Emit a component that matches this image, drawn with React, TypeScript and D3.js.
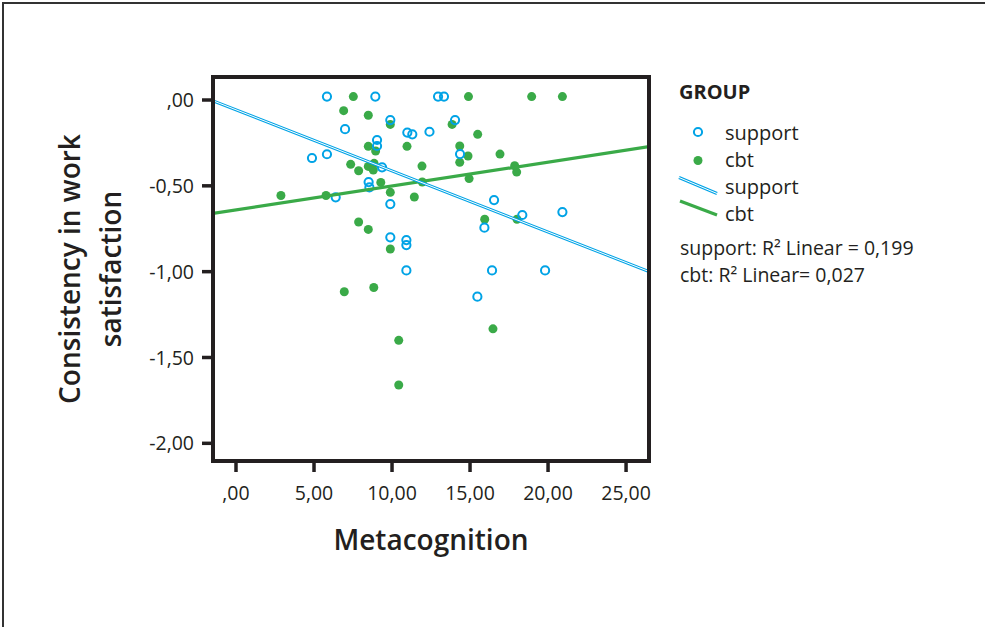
import * as d3 from "d3";
import React, { useEffect, useRef } from "react";

// support group (open circles)
const supportX = [5.83, 8.93, 6.99, 9.89, 10.98, 11.3, 12.4, 9.04, 9.04, 4.87, 5.83, 9.36, 8.5, 8.55, 6.39, 9.89, 9.89, 10.92, 10.92, 10.92, 12.95, 13.33, 14.04, 14.36, 16.54, 18.35, 20.92, 15.92, 16.41, 19.81, 15.47];
const supportY = [0.02, 0.02, -0.17, -0.117, -0.19, -0.2, -0.185, -0.233, -0.268, -0.338, -0.316, -0.392, -0.478, -0.509, -0.567, -0.606, -0.8, -0.816, -0.845, -0.993, 0.02, 0.02, -0.117, -0.315, -0.583, -0.67, -0.653, -0.744, -0.993, -0.993, -1.146];

// cbt group (filled dots)
const cbtX = [7.52, 6.9, 8.48, 9.89, 10.96, 8.48, 8.95, 7.35, 7.86, 8.48, 8.85, 8.8, 9.28, 11.92, 11.94, 9.89, 11.43, 2.88, 5.77, 7.86, 8.48, 9.89, 6.94, 8.83, 10.43, 10.43, 14.9, 18.95, 20.92, 13.85, 15.49, 14.34, 14.87, 14.34, 16.92, 17.86, 17.99, 14.94, 15.94, 18.01, 16.47];
const cbtY = [0.02, -0.062, -0.089, -0.142, -0.27, -0.27, -0.297, -0.375, -0.412, -0.387, -0.369, -0.408, -0.48, -0.385, -0.478, -0.538, -0.565, -0.556, -0.556, -0.711, -0.754, -0.868, -1.117, -1.092, -1.4, -1.66, 0.02, 0.02, 0.02, -0.142, -0.2, -0.268, -0.326, -0.363, -0.315, -0.383, -0.42, -0.458, -0.695, -0.695, -1.333];

// fit lines: [intercept, slope]
const supportFit = [-0.057, -0.0356];
const cbtFit = [-0.64, 0.0139];

const xTicks = [0, 5, 10, 15, 20, 25];
const yTicks = [0, -0.5, -1, -1.5, -2];
const legendLabels = ["support", "cbt", "support", "cbt"];
const r2Labels = ["support: R\u00b2 Linear = 0,199", "cbt: R\u00b2 Linear= 0,027"];

const BLUE = "#00a3e6";
const GREEN = "#3aaa48";
const INK = "#231f20";
const FONT = "'Open Sans', Lato, sans-serif";

const App = () => {
  const node = useRef(null);
  useEffect(() => {
    const svg = d3
      .select(node.current)
      .append("svg")
      .attr("width", 985)
      .attr("height", 627)
      .style("position", "absolute")
      .style("left", "0px")
      .style("top", "0px")
      .style("font-family", FONT)
      .style("font-weight", 500);

    const left = 213, right = 649, top = 77, bottom = 461;
    const x = d3.scaleLinear().domain([-1.474, 26.47]).range([left, right]);
    const y = d3.scaleLinear().domain([0.134, -2.103]).range([top, bottom]);

    const locale = d3.formatLocale({ decimal: ",", thousands: ".", grouping: [3], currency: ["", ""] });
    const fmt = (d) => locale.format(".2f")(d).replace(/^(-?)0,/, "$1,").replace("\u2212", "-");

    // outer frame
    svg
      .append("path")
      .attr("d", "M3,627V3H985")
      .attr("fill", "none")
      .attr("stroke", "#333")
      .attr("stroke-width", 2);

    // clip for fit lines
    svg
      .append("clipPath")
      .attr("id", "plotclip")
      .append("rect")
      .attr("x", left)
      .attr("y", top)
      .attr("width", right - left)
      .attr("height", bottom - top);

    const plot = svg.append("g");

    const line = d3
      .line()
      .x((d) => x(d[0]))
      .y((d) => y(d[1]));
    const xd = x.domain();
    const fitPts = (f) => xd.map((v) => [v, f[0] + f[1] * v]);

    // points
    plot
      .selectAll(".cbt")
      .data(cbtX.map((v, i) => [v, cbtY[i]]))
      .enter()
      .append("circle")
      .attr("cx", (d) => x(d[0]))
      .attr("cy", (d) => y(d[1]))
      .attr("r", 4.5)
      .attr("fill", GREEN);
    plot
      .selectAll(".sup")
      .data(supportX.map((v, i) => [v, supportY[i]]))
      .enter()
      .append("circle")
      .attr("cx", (d) => x(d[0]))
      .attr("cy", (d) => y(d[1]))
      .attr("r", 4.1)
      .attr("fill", "none")
      .attr("stroke", BLUE)
      .attr("stroke-width", 2);

    // fit lines
    const fits = plot.append("g").attr("clip-path", "url(#plotclip)");
    fits
      .append("path")
      .attr("d", line(fitPts(cbtFit)))
      .attr("fill", "none")
      .attr("stroke", GREEN)
      .attr("stroke-width", 3.2);
    fits
      .append("path")
      .attr("d", line(fitPts(supportFit)))
      .attr("fill", "none")
      .attr("stroke", BLUE)
      .attr("stroke-width", 3);
    fits
      .append("path")
      .attr("d", line(fitPts(supportFit)))
      .attr("fill", "none")
      .attr("stroke", "#fff")
      .attr("stroke-width", 1);

    // frame + ticks
    svg
      .append("rect")
      .attr("x", left)
      .attr("y", top)
      .attr("width", right - left)
      .attr("height", bottom - top)
      .attr("fill", "none")
      .attr("stroke", INK)
      .attr("stroke-width", 4);

    const yAx = svg.append("g");
    yTicks.forEach((t) => {
      yAx
        .append("line")
        .attr("x1", left - 11)
        .attr("x2", left)
        .attr("y1", y(t))
        .attr("y2", y(t))
        .attr("stroke", INK)
        .attr("stroke-width", 3.5);
      yAx
        .append("text")
        .attr("x", 194)
        .attr("y", y(t))
        .attr("dy", "0.36em")
        .attr("text-anchor", "end")
        .attr("font-size", 19.5)
        .attr("fill", INK)
        .text(fmt(t));
    });
    const xAx = svg.append("g");
    xTicks.forEach((t) => {
      xAx
        .append("line")
        .attr("x1", x(t))
        .attr("x2", x(t))
        .attr("y1", bottom)
        .attr("y2", bottom + 11)
        .attr("stroke", INK)
        .attr("stroke-width", 3.5);
      xAx
        .append("text")
        .attr("x", x(t))
        .attr("y", 500)
        .attr("text-anchor", "middle")
        .attr("font-size", 19.5)
        .attr("fill", INK)
        .text(fmt(t));
    });

    // axis titles
    svg
      .append("text")
      .attr("x", 431)
      .attr("y", 550)
      .attr("text-anchor", "middle")
      .attr("font-size", 28)
      .attr("font-weight", 600)
      .attr("fill", INK)
      .text("Metacognition");
    const yt = svg
      .append("text")
      .attr("transform", "translate(0,269) rotate(-90)")
      .attr("text-anchor", "middle")
      .attr("font-size", 28)
      .attr("font-weight", 600)
      .attr("fill", INK);
    yt.append("tspan").attr("x", 0).attr("y", 80).text("Consistency in work");
    yt.append("tspan").attr("x", 0).attr("y", 121).text("satisfaction");

    // legend
    const lg = svg.append("g").attr("fill", INK);
    lg.append("text")
      .attr("x", 679)
      .attr("y", 99)
      .attr("font-size", 20)
      .attr("font-weight", "bold")
      .text("GROUP");
    lg.append("circle")
      .attr("cx", 698)
      .attr("cy", 132)
      .attr("r", 4.1)
      .attr("fill", "none")
      .attr("stroke", BLUE)
      .attr("stroke-width", 2);
    lg.append("circle").attr("cx", 698).attr("cy", 160.5).attr("r", 4.5).attr("fill", GREEN);
    lg.append("line")
      .attr("x1", 679).attr("y1", 177.5).attr("x2", 717).attr("y2", 193.5)
      .attr("stroke", BLUE).attr("stroke-width", 3);
    lg.append("line")
      .attr("x1", 679).attr("y1", 177.5).attr("x2", 717).attr("y2", 193.5)
      .attr("stroke", "#fff").attr("stroke-width", 1);
    lg.append("line")
      .attr("x1", 680).attr("y1", 201).attr("x2", 717).attr("y2", 215)
      .attr("stroke", GREEN).attr("stroke-width", 3.2);
    const itemY = [140, 167, 194, 221];
    legendLabels.forEach((l, i) => {
      lg.append("text").attr("x", 725).attr("y", itemY[i]).attr("font-size", 20).text(l);
    });
    r2Labels.forEach((l, i) => {
      lg.append("text").attr("x", 680).attr("y", 255 + i * 27).attr("font-size", 19.5).text(l);
    });

    return () => {
      d3.select(node.current).selectAll("svg").remove();
    };
  }, []);
  return <div ref={node}></div>;
};
export default App;
